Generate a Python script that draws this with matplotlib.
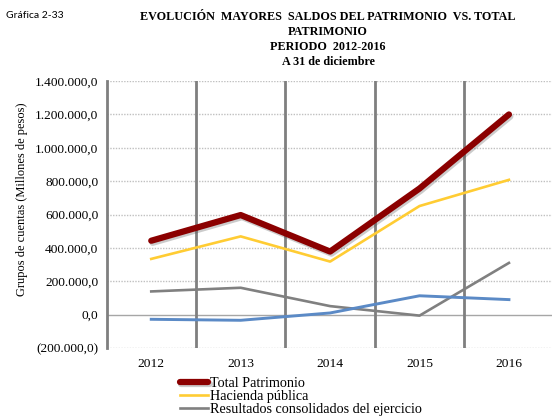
import matplotlib
matplotlib.use("Agg")
import matplotlib.pyplot as plt
import matplotlib.patheffects as pe
from matplotlib.ticker import FuncFormatter, MultipleLocator

plt.rcParams['font.family'] = ['Liberation Serif', 'DejaVu Serif']

# ------------------------------------------------------
# datos (millones de pesos)
# ------------------------------------------------------
years = ['2012', '2013', '2014', '2015', '2016']
total_patrimonio = [443000, 597000, 378000, 756000, 1200000]
hacienda_publica = [334000, 469000, 318000, 651000, 808000]
resultados_consolidados = [139000, 161000, 51000, -6000, 310000]
otro_grupo = [-28000, -34000, 10000, 113000, 90000]

labels = ['Total Patrimonio', 'Hacienda pública', 'Resultados consolidados del ejercicio']

title_lines = ['EVOLUCIÓN  MAYORES  SALDOS DEL PATRIMONIO  VS. TOTAL', 'PATRIMONIO',
               'PERIODO  2012-2016', 'A 31 de diciembre']


def fmt_pesos(v, pos):
    s = f"{abs(v):,.1f}".replace(",", "X").replace(".", ",").replace("X", ".")
    return f"({s})" if v < 0 else s


fig = plt.figure(figsize=(5.52, 4.18), dpi=100)
ax = fig.add_axes([0.193, 0.1675, 0.81, 0.6385])

x = range(len(years))

# lineas de la grafica
l1, = ax.plot(x, total_patrimonio, color='#8B0000', lw=4.5, solid_capstyle='round',
              zorder=5, path_effects=[pe.SimpleLineShadow(offset=(1, -1.5), alpha=0.3, shadow_color='#555555'),
                                      pe.Normal()])
l2, = ax.plot(x, hacienda_publica, color='#FFCC33', lw=1.9, zorder=4)
l3, = ax.plot(x, resultados_consolidados, color='#808080', lw=1.9, zorder=4)
ax.plot(x, otro_grupo, color='#5B8AC6', lw=2.1, zorder=4)

# ejes y grilla
ax.set_xlim(-0.5, 4.5)
ax.set_ylim(-200000, 1400000)
ax.yaxis.set_major_locator(MultipleLocator(200000))
ax.yaxis.set_major_formatter(FuncFormatter(fmt_pesos))
for yv in range(-200000, 1400001, 200000):
    if yv != 0:
        ax.axhline(yv, color='#c0c0c0', lw=1, ls=(0, (1, 1)), zorder=1)
ax.axhline(0, color='#a6a6a6', lw=1, zorder=2)
for xv in [0.5, 1.5, 2.5, 3.5]:
    ax.axvline(xv, color='#7f7f7f', lw=2, zorder=2)

for s in ['top', 'right', 'bottom']:
    ax.spines[s].set_visible(False)
ax.spines['left'].set_color('#7f7f7f')
ax.spines['left'].set_linewidth(2)

ax.set_xticks(list(x))
ax.set_xticklabels(years)
ax.tick_params(axis='x', length=0, pad=7, labelsize=9.7)
ax.tick_params(axis='y', length=0, pad=6, labelsize=9.6)
ax.set_ylabel('Grupos de cuentas (Millones de pesos)', fontsize=9)
ax.yaxis.set_label_coords(-0.175, 0.558)

# titulo
fig.text(0.01, 1 - 16 / 418, 'Gráfica 2-33', family=['Lato', 'DejaVu Sans'], fontsize=7.5, va='center')
for i, line in enumerate(title_lines):
    fig.text(328 / 552, 1 - (17 + 15 * i) / 418, line, ha='center', va='center',
             fontsize=8.7, fontweight='bold')

# leyenda (la ultima serie queda fuera de la imagen)
fig.legend([l1, l2, l3], labels, loc='upper left', bbox_to_anchor=(180 / 552, 1 - 377 / 418),
           frameon=False, fontsize=10.2, handlelength=2.0, handletextpad=0.1,
           labelspacing=0.0, borderpad=0, borderaxespad=0)

fig.savefig('out.png', dpi=100)
